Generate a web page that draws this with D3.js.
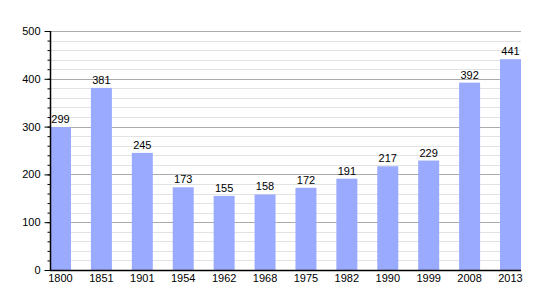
<!doctype html>
<html lang="fr">
<head>
<meta charset="utf-8">
<title>Population</title>
<script src="https://d3js.org/d3.v7.min.js"></script>
<style>
  body { margin: 0; background: #fff; }
  text { font-family: "Liberation Sans", Arial, sans-serif; }
</style>
</head>
<body>
<script>
// data
var years = ["1800", "1851", "1901", "1954", "1962", "1968", "1975", "1982", "1990", "1999", "2008", "2013"];
var population = [299, 381, 245, 173, 155, 158, 172, 191, 217, 229, 392, 441];
var yTicks = [0, 100, 200, 300, 400, 500];

var width = 550, height = 300;
var plotLeft = 50, plotRight = 521, plotTop = 31, plotBottom = 270;

var svg = d3.select("body").append("svg")
    .attr("width", width)
    .attr("height", height);

var x = d3.scaleBand()
    .domain(years)
    .range([plotLeft, plotRight])
    .paddingInner(0.487)
    .paddingOuter(0)
    .align(0);

var y = d3.scaleLinear()
    .domain([0, 500])
    .range([plotBottom, plotTop]);

// minor grid every 20
svg.append("g")
    .selectAll("line")
    .data(d3.range(20, 500, 20).filter(function(v) { return v % 100 != 0; }))
    .enter().append("line")
    .attr("x1", plotLeft).attr("x2", plotRight)
    .attr("y1", function(d) { return Math.round(y(d)) + 0.5; })
    .attr("y2", function(d) { return Math.round(y(d)) + 0.5; })
    .attr("stroke", "#e2e2e2");

// major grid
svg.append("g")
    .selectAll("line")
    .data(yTicks.slice(1))
    .enter().append("line")
    .attr("x1", plotLeft).attr("x2", plotRight)
    .attr("y1", function(d) { return Math.round(y(d)) + 0.5; })
    .attr("y2", function(d) { return Math.round(y(d)) + 0.5; })
    .attr("stroke", "#ababab");

// bars
svg.append("g")
    .selectAll("rect")
    .data(years)
    .enter().append("rect")
    .attr("x", function(d) { return x(d); })
    .attr("width", x.bandwidth())
    .attr("y", function(d, i) { return y(population[i]); })
    .attr("height", function(d, i) { return plotBottom - y(population[i]); })
    .attr("fill", "#99aaff");

// value labels
svg.append("g")
    .selectAll("text")
    .data(years)
    .enter().append("text")
    .attr("x", function(d) { return x(d) + x.bandwidth() / 2; })
    .attr("y", function(d, i) { return y(population[i]) - 4; })
    .attr("text-anchor", "middle")
    .attr("font-size", 11)
    .attr("fill", "#000")
    .text(function(d, i) { return population[i]; });

// y axis minor ticks
svg.append("g")
    .attr("transform", "translate(" + (plotLeft + 0.5) + ",0)")
    .call(d3.axisLeft(y).tickValues(d3.range(0, 501, 20)).tickSize(3).tickFormat(""))
    .call(function(g) { g.select(".domain").remove(); });

// y axis major
var yAxis = svg.append("g")
    .attr("transform", "translate(" + (plotLeft + 0.5) + ",0)")
    .call(d3.axisLeft(y).tickValues(yTicks).tickSize(6).tickPadding(4));
yAxis.select(".domain").attr("d", "M0," + plotTop + "V" + plotBottom).attr("stroke-width", 1.5);
yAxis.selectAll("text").attr("font-size", 11).attr("font-family", "Liberation Sans, Arial, sans-serif");

// x axis line
svg.append("line")
    .attr("x1", plotLeft).attr("x2", plotRight)
    .attr("y1", plotBottom + 0.5).attr("y2", plotBottom + 0.5)
    .attr("stroke", "#000")
    .attr("stroke-width", 1.5);

// x labels
svg.append("g")
    .selectAll("text")
    .data(years)
    .enter().append("text")
    .attr("x", function(d) { return x(d) + x.bandwidth() / 2; })
    .attr("y", plotBottom + 12)
    .attr("text-anchor", "middle")
    .attr("font-size", 11)
    .text(function(d) { return d; });
</script>
</body>
</html>
